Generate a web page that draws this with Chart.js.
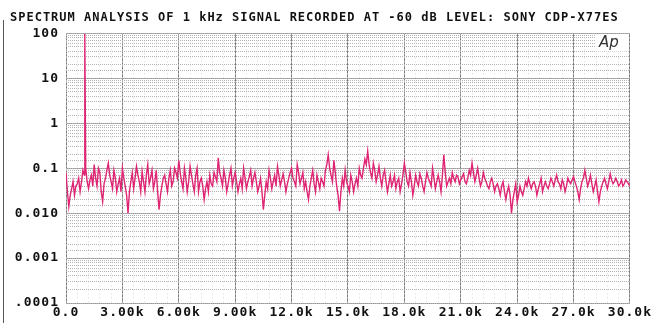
<!DOCTYPE html>
<html><head><meta charset="utf-8">
<script src="https://cdn.jsdelivr.net/npm/chart.js@4/dist/chart.umd.min.js"></script>
<style>
html,body{margin:0;padding:0;background:#fff;}
#wrap{position:relative;width:654px;height:323px;}
#scan{position:absolute;left:3px;top:20px;width:1px;height:303px;background:#555;}
</style></head><body>
<div id="wrap"><canvas id="c" width="654" height="323"></canvas><div id="scan"></div></div>
<script>
const titleText = 'SPECTRUM ANALYSIS OF 1 kHz SIGNAL RECORDED AT -60 dB LEVEL: SONY CDP-X77ES';
const logoText = 'Ap';
const freqStepK = 0.075;
const noiseLevels = [
  0.08, 0.03, 0.014, 0.025, 0.035, 0.05, 0.025, 0.04, 0.045, 0.06,
  0.03, 0.05, 0.09, 0.07, 0.1, 0.05, 0.035, 0.055, 0.07, 0.04,
  0.12, 0.06, 0.04, 0.1, 0.08, 0.03, 0.018, 0.045, 0.06, 0.09,
  0.13, 0.07, 0.05, 0.035, 0.09, 0.06, 0.03, 0.045, 0.06, 0.03,
  0.1, 0.06, 0.04, 0.025, 0.01, 0.03, 0.05, 0.08, 0.035, 0.06,
  0.11, 0.07, 0.05, 0.03, 0.085, 0.05, 0.03, 0.07, 0.12, 0.045,
  0.06, 0.09, 0.035, 0.05, 0.09, 0.03, 0.012, 0.025, 0.04, 0.06,
  0.07, 0.045, 0.03, 0.06, 0.09, 0.04, 0.05, 0.1, 0.08, 0.06,
  0.15, 0.08, 0.05, 0.035, 0.1, 0.06, 0.03, 0.05, 0.11, 0.07,
  0.045, 0.03, 0.07, 0.1, 0.03, 0.05, 0.06, 0.04, 0.02, 0.035,
  0.05, 0.03, 0.07, 0.045, 0.04, 0.08, 0.065, 0.05, 0.17, 0.08,
  0.06, 0.04, 0.09, 0.06, 0.03, 0.045, 0.07, 0.1, 0.04, 0.06,
  0.08, 0.05, 0.03, 0.045, 0.06, 0.035, 0.1, 0.06, 0.035, 0.05,
  0.065, 0.09, 0.04, 0.06, 0.08, 0.05, 0.03, 0.04, 0.06, 0.03,
  0.012, 0.025, 0.05, 0.035, 0.09, 0.06, 0.035, 0.05, 0.07, 0.04,
  0.11, 0.07, 0.04, 0.055, 0.075, 0.05, 0.03, 0.045, 0.06, 0.08,
  0.1, 0.06, 0.05, 0.04, 0.12, 0.08, 0.045, 0.06, 0.08, 0.035,
  0.05, 0.03, 0.02, 0.04, 0.06, 0.09, 0.045, 0.03, 0.07, 0.05,
  0.035, 0.06, 0.05, 0.04, 0.09, 0.12, 0.2, 0.1, 0.07, 0.05,
  0.15, 0.08, 0.04, 0.025, 0.011, 0.03, 0.06, 0.04, 0.09, 0.05,
  0.04, 0.03, 0.07, 0.05, 0.03, 0.045, 0.06, 0.04, 0.1, 0.07,
  0.06, 0.1, 0.16, 0.12, 0.24, 0.12, 0.08, 0.06, 0.13, 0.09,
  0.05, 0.07, 0.11, 0.06, 0.04, 0.07, 0.09, 0.05, 0.03, 0.045,
  0.07, 0.04, 0.05, 0.07, 0.035, 0.05, 0.06, 0.03, 0.045, 0.07,
  0.13, 0.08, 0.05, 0.04, 0.08, 0.05, 0.025, 0.04, 0.07, 0.05,
  0.04, 0.075, 0.06, 0.04, 0.03, 0.05, 0.08, 0.06, 0.05, 0.04,
  0.1, 0.06, 0.035, 0.05, 0.07, 0.05, 0.03, 0.07, 0.2, 0.08,
  0.04, 0.05, 0.06, 0.045, 0.08, 0.06, 0.05, 0.07, 0.065, 0.045,
  0.055, 0.065, 0.075, 0.05, 0.045, 0.06, 0.09, 0.07, 0.13, 0.08,
  0.05, 0.07, 0.1, 0.06, 0.04, 0.05, 0.08, 0.06, 0.05, 0.04,
  0.035, 0.05, 0.06, 0.045, 0.03, 0.04, 0.045, 0.035, 0.025, 0.04,
  0.05, 0.03, 0.02, 0.03, 0.04, 0.025, 0.01, 0.02, 0.03, 0.045,
  0.018, 0.025, 0.04, 0.03, 0.025, 0.035, 0.05, 0.04, 0.06, 0.045,
  0.035, 0.045, 0.05, 0.04, 0.025, 0.035, 0.045, 0.06, 0.03, 0.04,
  0.05, 0.04, 0.035, 0.045, 0.06, 0.05, 0.04, 0.055, 0.07, 0.05,
  0.045, 0.035, 0.055, 0.045, 0.03, 0.04, 0.06, 0.05, 0.045, 0.055,
  0.065, 0.05, 0.04, 0.03, 0.02, 0.035, 0.05, 0.06, 0.09, 0.06,
  0.04, 0.05, 0.07, 0.045, 0.03, 0.04, 0.055, 0.03, 0.018, 0.03,
  0.04, 0.05, 0.06, 0.045, 0.035, 0.05, 0.075, 0.055, 0.045, 0.05,
  0.06, 0.05, 0.04, 0.045, 0.055, 0.04, 0.045, 0.055, 0.05, 0.045,
  0.04
];
const toneFreqK = 1.0;
const toneLevel = 100;
const xTickLabels = ['0.0','3.00k','6.00k','9.00k','12.0k','15.0k','18.0k','21.0k','24.0k','27.0k','30.0k'];
const yTickValues = [100, 10, 1, 0.1, 0.01, 0.001, 0.0001];
const yTickLabels = ['100', '10', '1', '0.1', '0.010', '0.001', '.0001'];

const points = noiseLevels.map((v, i) => ({x: i * freqStepK, y: v}));
points.push({x: toneFreqK, y: toneLevel});
points.sort((a, b) => a.x - b.x);

const monoFont = {family: "'DejaVu Sans Mono', monospace", size: 13, weight: 'bold'};

const spacingPlugin = {
  id: 'spacing',
  beforeUpdate(chart) { chart.ctx.letterSpacing = '1px'; },
  beforeLayout(chart) { chart.ctx.letterSpacing = '1px'; },
  beforeDraw(chart) { chart.ctx.letterSpacing = '1px'; }
};
const logoPlugin = {
  id: 'logo',
  afterDatasetsDraw(chart) {
    const {ctx, chartArea} = chart;
    ctx.save();
    ctx.letterSpacing = '0px';
    ctx.fillStyle = '#fff';
    ctx.fillRect(chartArea.right - 35, chartArea.top + 1, 34, 17);
    ctx.fillStyle = '#333';
    ctx.font = "italic 15px 'DejaVu Sans', sans-serif";
    ctx.textAlign = 'left';
    ctx.textBaseline = 'top';
    ctx.fillText(logoText, chartArea.right - 31, chartArea.top + 2);
    ctx.restore();
  }
};

new Chart(document.getElementById('c'), {
  type: 'line',
  data: {
    datasets: [{
      data: points,
      borderColor: '#df2473',
      borderWidth: 1.4,
      pointRadius: 0,
      tension: 0,
      fill: false
    }]
  },
  options: {
    responsive: false,
    animation: false,
    devicePixelRatio: 1,
    parsing: false,
    layout: {padding: {left: 10, right: 22, top: 0, bottom: 0}},
    plugins: {
      legend: {display: false},
      tooltip: {enabled: false},
      title: {
        display: true,
        text: titleText,
        align: 'start',
        color: '#111',
        font: {family: "'DejaVu Sans Mono', monospace", size: 12, weight: 'bold'},
        padding: {top: 11, bottom: 8}
      }
    },
    scales: {
      x: {
        type: 'linear', position: 'bottom', min: 0, max: 30,
        afterBuildTicks: s => { s.ticks = xTickLabels.map((_, i) => ({value: i * 3})); },
        ticks: {
          autoSkip: false, maxRotation: 0, padding: 2, color: '#111', font: monoFont,
          callback: (v, i) => xTickLabels[i]
        },
        grid: {color: '#7a7a7a', lineWidth: 1, drawTicks: false},
        border: {display: false},
        afterFit: s => { s.height = 20; }
      },
      xMinor: {
        type: 'linear', position: 'bottom', min: 0, max: 30,
        ticks: {display: false, stepSize: 0.6},
        grid: {color: '#d8d8d8', lineWidth: 1, drawTicks: false},
        border: {display: false, dash: [1, 3]},
        afterFit: s => { s.height = 0; }
      },
      y: {
        type: 'logarithmic', position: 'left', min: 0.0001, max: 100,
        afterBuildTicks: s => { s.ticks = yTickValues.map(v => ({value: v})); },
        ticks: {
          autoSkip: false, padding: 7, color: '#111', font: monoFont,
          callback: (v, i) => yTickLabels[yTickValues.indexOf(v)] ?? ''
        },
        grid: {color: '#999', lineWidth: 1, drawTicks: false},
        border: {display: false},
        afterFit: s => { s.width = 56; }
      },
      yMinor: {
        type: 'logarithmic', position: 'left', min: 0.0001, max: 100,
        ticks: {display: false},
        grid: {color: '#b4b4b4', lineWidth: 1, drawTicks: false},
        border: {display: false, dash: [1, 1]},
        afterFit: s => { s.width = 0; }
      }
    }
  },
  plugins: [spacingPlugin, logoPlugin]
});
</script>
</body></html>
